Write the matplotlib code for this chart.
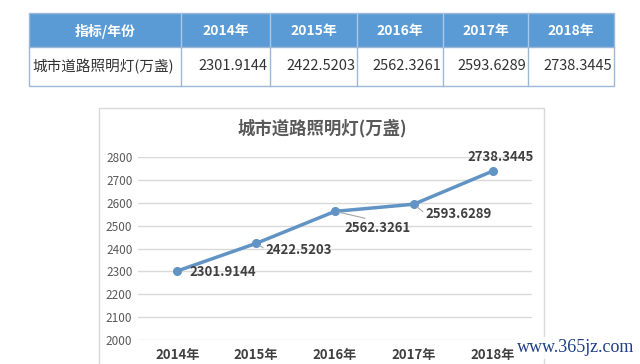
import matplotlib
matplotlib.use('Agg')
import matplotlib.pyplot as plt
from matplotlib.patches import Rectangle

plt.rcParams['font.family'] = ['Noto Sans CJK SC', 'DejaVu Sans']

header = ['指标/年份', '2014年', '2015年', '2016年', '2017年', '2018年']
row_name = '城市道路照明灯(万盏)'
years = ['2014年', '2015年', '2016年', '2017年', '2018年']
values = [2301.9144, 2422.5203, 2562.3261, 2593.6289, 2738.3445]
yticks = [2000, 2100, 2200, 2300, 2400, 2500, 2600, 2700, 2800]

W, H = 640, 364
fig = plt.figure(figsize=(W / 100, H / 100), dpi=100)
fig.patch.set_facecolor('white')

# overlay in pixel coordinates for the table and the chart frame
ov = fig.add_axes([0, 0, 1, 1], zorder=0)
ov.set_xlim(0, W)
ov.set_ylim(H, 0)
ov.axis('off')

cols = [29, 181, 270, 357, 443, 528, 614]
top, mid, bot = 13, 47, 86
blue = '#5b9bd5'
ov.add_patch(Rectangle((cols[0], top), cols[-1] - cols[0], mid - top,
                       facecolor=blue, edgecolor='none'))
ov.add_patch(Rectangle((cols[0], top), cols[-1] - cols[0], bot - top,
                       facecolor='none', edgecolor='#9db8d6', lw=1))
ov.plot([cols[0], cols[-1]], [mid, mid], color='#9db8d6', lw=1)
for c in cols[1:-1]:
    ov.plot([c, c], [top, mid], color='#a9c8e8', lw=1)
    ov.plot([c, c], [mid, bot], color='#9db8d6', lw=1)
for i, h in enumerate(header):
    ov.text((cols[i] + cols[i + 1]) / 2, (top + mid) / 2 + 1, h, color='white',
            fontsize=10, fontweight='bold', ha='center', va='center')
ov.text(cols[0] + 3, (mid + bot) / 2, row_name, color='#333333', fontsize=10.5,
        ha='left', va='center')
for i, v in enumerate(values):
    ov.text(cols[i + 2] - 2, (mid + bot) / 2, f'{v:.4f}', color='#333333',
            fontsize=10.5, ha='right', va='center')

# chart frame
ov.add_patch(Rectangle((99, 108), 445, 270, facecolor='white', edgecolor='#d9d9d9', lw=1))
ov.text(322, 128, '城市道路照明灯(万盏)', color='#595959', fontsize=12.5,
        fontweight='bold', ha='center', va='center')

ax = fig.add_axes([138 / W, 1 - 340 / H, 394 / W, 183 / H], zorder=1)
ax.patch.set_alpha(0)
x = list(range(len(years)))
ax.plot(x, values, color='#6194c4', lw=2.5, marker='o', ms=5.5, zorder=3)
ax.set_xlim(-0.5, len(years) - 0.5)
ax.set_ylim(2000, 2800)
ax.set_yticks(yticks)
ax.set_xticks(x)
ax.set_xticklabels(years, fontsize=9.5, fontweight='bold', color='#404040')
ax.tick_params(axis='y', length=0, pad=4, labelsize=8.5, labelcolor='#595959')
ax.tick_params(axis='x', length=0, pad=6)
ax.grid(axis='y', color='#d9d9d9', lw=1)
ax.set_axisbelow(True)
for s in ax.spines.values():
    s.set_visible(False)

# data labels: (dx, dy) in points, leader line relpos
offs = [((8.5, -0.5), 'left', None),
        ((7, -4.5), 'left', (0, 0.5)),
        ((6.5, -12), 'left', (0.5, 1)),
        ((8.5, -7), 'left', (0, 0.5)),
        ((6, 10), 'center', None)]
for i, v in enumerate(values):
    (dx, dy), ha, rel = offs[i]
    ap = None
    if rel is not None:
        ap = dict(arrowstyle='-', color='#a6a6a6', lw=0.8, relpos=rel,
                  shrinkA=0, shrinkB=3)
    ax.annotate(f'{v:.4f}', (i, v), xytext=(dx, dy), textcoords='offset points',
                ha=ha, va='center', fontsize=9.5, fontweight='bold', color='#404040',
                arrowprops=ap, zorder=4)

fig.text(517 / W, 1 - 348 / H, 'www.365jz.com', family='Liberation Serif', fontsize=13,
         color='#1f3f86', ha='left', va='center', zorder=5,
         bbox=dict(facecolor='white', edgecolor='none', alpha=0.85, pad=2))

fig.savefig('out.png', dpi=100)
